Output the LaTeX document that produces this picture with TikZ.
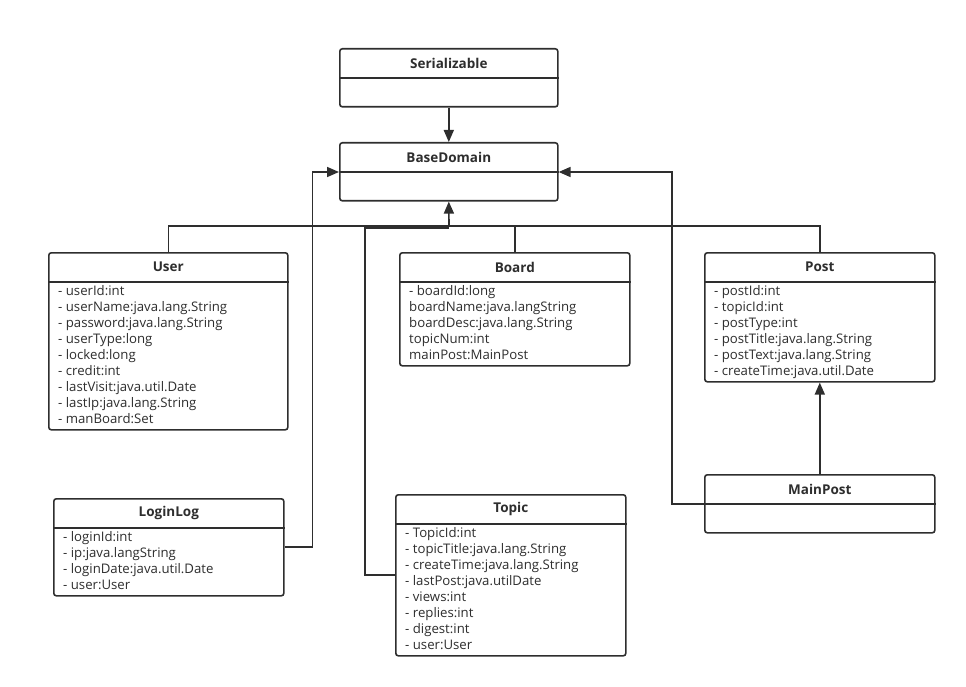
\documentclass[tikz,border=0pt]{standalone}
\usepackage{fontspec}
\setmainfont{Open Sans}
\usetikzlibrary{arrows.meta,calc}
\definecolor{ink}{HTML}{2E2E2E}
\begin{document}
\begin{tikzpicture}[x=1pt,y=-1pt,
  cls/.style={draw=ink, line width=1.6pt, rounded corners=2.5pt, fill=white, inner sep=0pt, anchor=north west},
  ttl/.style={font=\bfseries\fontsize{13.5}{15}\selectfont, text=ink, inner sep=0pt},
  attrs/.style={align=left, anchor=north west, inner sep=0pt, font=\fontsize{13.2}{16}\selectfont, text=ink},
  conn/.style={draw=ink, line width=1.6pt},
  arr/.style={conn, -{Triangle[length=12pt,width=10pt]}}]
\useasboundingbox (0,0) rectangle (966,687);

\coordinate (bus) at (449,226);
\coordinate (tbus) at (365,228);
\coordinate (tbusend) at (449,228);

% classes
\node[cls, minimum width=218pt, minimum height=58pt] (ser) at (339,48) {};
\node[cls, minimum width=218pt, minimum height=58pt] (base) at (339,142) {};
\node[cls, minimum width=239pt, minimum height=177pt] (user) at (48,252) {};
\node[cls, minimum width=230pt, minimum height=113pt] (board) at (399,252) {};
\node[cls, minimum width=230pt, minimum height=129pt] (post) at (704,252) {};
\node[cls, minimum width=230pt, minimum height=97pt] (log) at (53,498) {};
\node[cls, minimum width=230pt, minimum height=161pt] (topic) at (395,494) {};
\node[cls, minimum width=230pt, minimum height=58pt] (mp) at (704,474) {};

% dividers
\foreach \c in {ser,base,user,board,post,log,topic,mp}{
  \draw[conn] ($(\c.north west)+(0,30)$) -- ($(\c.north east)+(0,30)$);
}

% titles
\node[ttl] (serT) at ($(ser.north)+(0,15)$) {Serializable};
\node[ttl] (baseT) at ($(base.north)+(0,15)$) {BaseDomain};
\node[ttl] (userT) at ($(user.north)+(0,15)$) {User};
\node[ttl] (boardT) at ($(board.north)+(0,15)$) {Board};
\node[ttl] (postT) at ($(post.north)+(0,15)$) {Post};
\node[ttl] (logT) at ($(log.north)+(0,15)$) {LoginLog};
\node[ttl] (topicT) at ($(topic.north)+(0,15)$) {Topic};
\node[ttl] (mpT) at ($(mp.north)+(0,15)$) {MainPost};

% attributes
\node[attrs] (userA) at ($(user.north west)+(10,33)$) {- userId:int\\- userName:java.lang.String\\- password:java.lang.String\\- userType:long\\- locked:long\\- credit:int\\- lastVisit:java.util.Date\\- lastIp:java.lang.String\\- manBoard:Set};
\node[attrs] (boardA) at ($(board.north west)+(10,33)$) {- boardId:long\\boardName:java.langString\\boardDesc:java.lang.String\\topicNum:int\\mainPost:MainPost};
\node[attrs] (postA) at ($(post.north west)+(10,33)$) {- postId:int\\- topicId:int\\- postType:int\\- postTitle:java.lang.String\\- postText:java.lang.String\\- createTime:java.util.Date};
\node[attrs] (logA) at ($(log.north west)+(10,33)$) {- loginId:int\\- ip:java.langString\\- loginDate:java.util.Date\\- user:User};
\node[attrs] (topicA) at ($(topic.north west)+(10,33)$) {- TopicId:int\\- topicTitle:java.lang.String\\- createTime:java.lang.String\\- lastPost:java.utilDate\\- views:int\\- replies:int\\- digest:int\\- user:User};

% connectors
\draw[arr] (ser.south) -- (base.north);
\draw[conn] (user.north) |- (bus);
\draw[conn] (board.north) |- (bus);
\draw[conn] (post.north) |- (bus);
\draw[arr] (bus) -- (base.south);
\draw[conn] ($(topic.north west)+(0,81)$) -| (tbus) -- (tbusend);
\draw[arr] ($(log.north east)+(0,49)$) -- ++(28,0) |- ($(base.north west)+(0,30)$);
\draw[arr] ($(mp.north west)+(0,30)$) -- ++(-32,0) |- ($(base.north east)+(0,30)$);
\draw[arr] (mp.north) -- (post.south);
\end{tikzpicture}
\end{document}
